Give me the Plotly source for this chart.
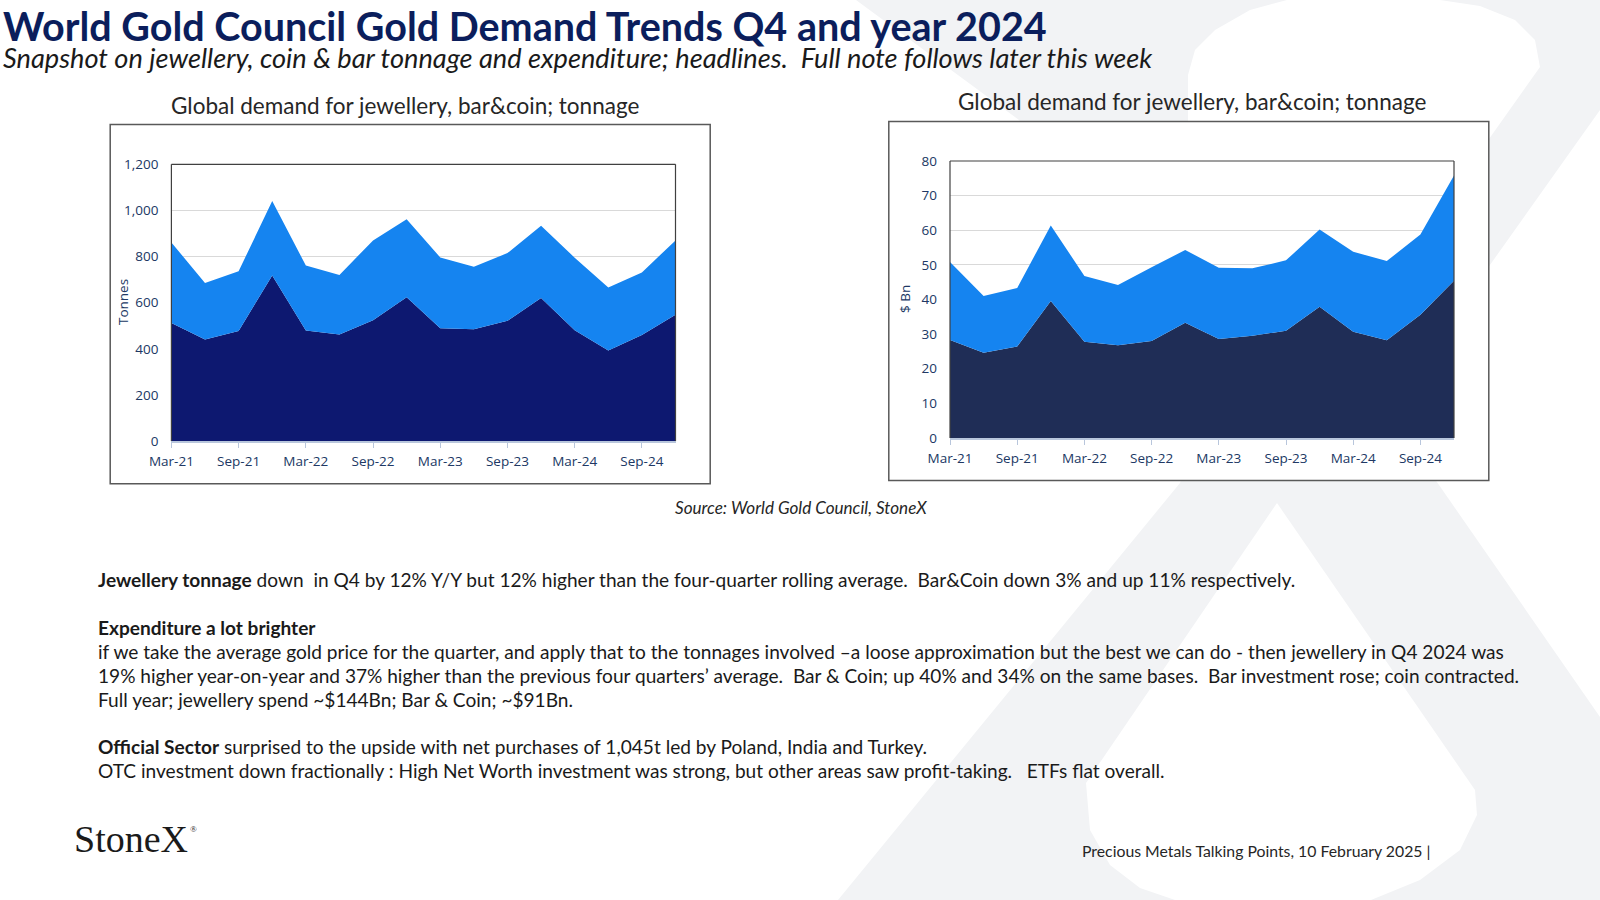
import plotly.graph_objects as go

# ---------------- data ----------------
quarters = ["Mar-21", "Jun-21", "Sep-21", "Dec-21", "Mar-22", "Jun-22", "Sep-22", "Dec-22",
            "Mar-23", "Jun-23", "Sep-23", "Dec-23", "Mar-24", "Jun-24", "Sep-24", "Dec-24"]
tick_labels = ["Mar-21", "Sep-21", "Mar-22", "Sep-22", "Mar-23", "Sep-23", "Mar-24", "Sep-24"]

jewellery_tonnes = [512, 440, 477, 718, 479, 462, 524, 623, 489, 485, 521, 620, 480, 392, 460, 548]
barcoin_tonnes = [349, 245, 259, 323, 282, 258, 346, 339, 307, 271, 294, 313, 315, 274, 271, 322]

jewellery_usd_bn = [28.3, 24.6, 26.4, 39.6, 27.8, 26.8, 28.0, 33.3, 28.6, 29.5, 31.0, 37.9, 30.7, 28.2, 35.6, 45.4]
barcoin_usd_bn = [22.5, 16.4, 16.9, 21.8, 19.0, 17.4, 21.3, 21.0, 20.6, 19.5, 20.3, 22.3, 23.1, 22.9, 23.2, 30.4]

# ---------------- styling ----------------
W, H = 1600, 900
LIGHT_BLUE = "#1584F0"
DARK_LEFT = "#0D1870"
DARK_RIGHT = "#1F2D56"
AXIS_TXT = "#203864"
GRID = "#D9D9D9"
WM = "#F2F3F5"
BODY_FONT = "Lato"
TICK_FONT = "Open Sans"


def px(x, y):
    return x / W, 1 - y / H


def path(points):
    s = ""
    for i, (x, y) in enumerate(points):
        fx, fy = px(x, y)
        s += ("M" if i == 0 else "L") + f"{fx:.5f},{fy:.5f} "
    return s + "Z"


fig = go.Figure()

fig.add_trace(go.Scatter(x=quarters, y=jewellery_tonnes, stackgroup="t", mode="lines",
                         line=dict(width=0, color=DARK_LEFT), fillcolor=DARK_LEFT,
                         name="Jewellery", xaxis="x", yaxis="y", hoverinfo="skip"))
fig.add_trace(go.Scatter(x=quarters, y=barcoin_tonnes, stackgroup="t", mode="lines",
                         line=dict(width=0, color=LIGHT_BLUE), fillcolor=LIGHT_BLUE,
                         name="Bar & Coin", xaxis="x", yaxis="y", hoverinfo="skip"))
fig.add_trace(go.Scatter(x=quarters, y=jewellery_usd_bn, stackgroup="u", mode="lines",
                         line=dict(width=0, color=DARK_RIGHT), fillcolor=DARK_RIGHT,
                         name="Jewellery $", xaxis="x2", yaxis="y2", hoverinfo="skip"))
fig.add_trace(go.Scatter(x=quarters, y=barcoin_usd_bn, stackgroup="u", mode="lines",
                         line=dict(width=0, color=LIGHT_BLUE), fillcolor=LIGHT_BLUE,
                         name="Bar & Coin $", xaxis="x2", yaxis="y2", hoverinfo="skip"))

xcommon = dict(type="category", range=[0, 15], tickmode="array", tickvals=tick_labels,
               ticktext=tick_labels, showgrid=False, showline=True, linecolor="#B8C6DC",
               linewidth=2, ticks="outside", ticklen=5, tickcolor="#B8C6DC", tickwidth=1,
               tickfont=dict(family=TICK_FONT, size=13.5, color=AXIS_TXT), ticklabelstandoff=2,
               zeroline=False, fixedrange=True, automargin=False)
ycommon = dict(showgrid=True, gridcolor=GRID, gridwidth=1.2, showline=False, ticks="",
               zeroline=False, tickfont=dict(family=TICK_FONT, size=13.5, color=AXIS_TXT),
               ticklabelstandoff=12, fixedrange=True, automargin=False)

L_plot = (171.4, 164.3, 675.5, 441.0)
R_plot = (950.0, 161.0, 1454.0, 438.0)

fig.update_layout(
    width=W, height=H, autosize=False, margin=dict(l=0, r=0, t=0, b=0, pad=0, autoexpand=False),
    paper_bgcolor="white", plot_bgcolor="rgba(0,0,0,0)", showlegend=False,
    xaxis=dict(xcommon, domain=[L_plot[0] / W, L_plot[2] / W], anchor="y"),
    yaxis=dict(ycommon, domain=[1 - L_plot[3] / H, 1 - L_plot[1] / H], anchor="x",
               range=[0, 1200], dtick=200, tickformat=","),
    xaxis2=dict(xcommon, domain=[R_plot[0] / W, R_plot[2] / W], anchor="y2"),
    yaxis2=dict(ycommon, domain=[1 - R_plot[3] / H, 1 - R_plot[1] / H], anchor="x2",
                range=[0, 80], dtick=10),
)

shapes = []
# watermark "X"
hull = [(856, 0), (1600, 0), (1600, 110), (1387, 410), (1600, 717), (1600, 900), (838, 900),
        (1180, 483), (1230, 330), (1019, 120)]
shapes.append(dict(type="path", path=path(hull), xref="paper", yref="paper",
                   fillcolor=WM, line=dict(width=0), layer="below"))
bulb = [(1287, 0), (1250, 10), (1215, 30), (1195, 50), (1188, 75), (1188, 130), (1360, 330),
        (1382, 290), (1540, 67), (1535, 40), (1515, 20), (1480, 6), (1440, 0)]
shapes.append(dict(type="path", path=path(bulb), xref="paper", yref="paper",
                   fillcolor="white", line=dict(width=0), layer="below"))
counter = [(1277, 503), (1086, 783), (1090, 830), (1110, 865), (1140, 888), (1175, 900),
           (1371, 900), (1420, 880), (1460, 850), (1477, 815), (1475, 790)]
shapes.append(dict(type="path", path=path(counter), xref="paper", yref="paper",
                   fillcolor="white", line=dict(width=0), layer="below"))

# chart boxes
for (x0, y0, x1, y1) in [(110.2, 124.5, 710.2, 483.7), (888.8, 121.4, 1488.8, 480.6)]:
    fx0, fy0 = px(x0, y0)
    fx1, fy1 = px(x1, y1)
    shapes.append(dict(type="rect", xref="paper", yref="paper", x0=fx0, x1=fx1, y0=fy1, y1=fy0,
                       fillcolor="white", line=dict(color="#595959", width=1.5), layer="below"))

# plot-area frame (top, left, right)
for xa, ya in [("x", "y"), ("x2", "y2")]:
    for (a0, b0, a1, b1) in [(0, 1, 1, 1), (0, 0, 0, 1), (1, 0, 1, 1)]:
        shapes.append(dict(type="line", xref=f"{xa} domain", yref=f"{ya} domain",
                           x0=a0, y0=b0, x1=a1, y1=b1, line=dict(color="#404040", width=1.2),
                           layer="above"))
fig.update_layout(shapes=shapes)

ann = []


def text(x, y, s, size, color="#1A1A1A", family=BODY_FONT, xanchor="left", angle=0, weight=None,
         yanchor="middle"):
    fx, fy = px(x, y)
    f = dict(family=family, size=size, color=color)
    if weight:
        f["weight"] = weight
    ann.append(dict(x=fx, y=fy, xref="paper", yref="paper", text=s, showarrow=False,
                    xanchor=xanchor, yanchor=yanchor, font=f, textangle=angle))


NB = "\u00a0"
text(1, 0, "World Gold Council Gold Demand Trends Q4 and year 2024", 39.5, color="#0B1E5C", weight=700,
     yanchor="top")
text(1, 57, "<i>Snapshot on jewellery, coin & bar tonnage and expenditure; headlines." + NB * 2 +
     "Full note follows later this week</i>", 27.2, color="#1A1A1A")
text(405, 105, "Global demand for jewellery, bar&coin; tonnage", 22.5, color="#262626", xanchor="center")
text(1192, 102, "Global demand for jewellery, bar&coin; tonnage", 22.5, color="#262626", xanchor="center")
text(123, 302, "Tonnes", 13.5, color=AXIS_TXT, family=TICK_FONT, xanchor="center", angle=-90)
text(905, 299, "$ Bn", 13.5, color=AXIS_TXT, family=TICK_FONT, xanchor="center", angle=-90)
text(801, 507, "<i>Source: World Gold Council, StoneX</i>", 17.1, color="#262626", xanchor="center")

body = [
    (579, "<b>Jewellery tonnage</b> down" + NB * 2 + "in Q4 by 12% Y/Y but 12% higher than the four-quarter rolling average."
     + NB * 2 + "Bar&Coin down 3% and up 11% respectively."),
    (627, "<b>Expenditure a lot brighter</b>"),
    (651, "if we take the average gold price for the quarter, and apply that to the tonnages involved –a loose "
          "approximation but the best we can do - then jewellery in Q4 2024 was"),
    (675, "19% higher year-on-year and 37% higher than the previous four quarters’ average." + NB * 2 +
     "Bar & Coin; up 40% and 34% on the same bases." + NB * 2 + "Bar investment rose; coin contracted."),
    (699, "Full year; jewellery spend ~$144Bn; Bar & Coin; ~$91Bn."),
    (746, "<b>Official Sector</b> surprised to the upside with net purchases of 1,045t led by Poland, India and Turkey."),
    (770, "OTC investment down fractionally : High Net Worth investment was strong, but other areas saw profit-taking."
     + NB * 3 + "ETFs flat overall."),
]
for y, s in body:
    text(96, y, s, 19.1)

text(72, 839, "StoneX", 38, color="#1A1A1A", family="Liberation Serif")
text(188, 829, "®", 9, color="#1A1A1A", family="Liberation Serif")
text(1433, 850, "Precious Metals Talking Points, 10 February 2025 |", 15.8, color="#262626", xanchor="right")

fig.update_layout(annotations=ann)
fig.write_html("out.html", config={"displayModeBar": False},
               post_script="document.body.style.margin='0px';")
